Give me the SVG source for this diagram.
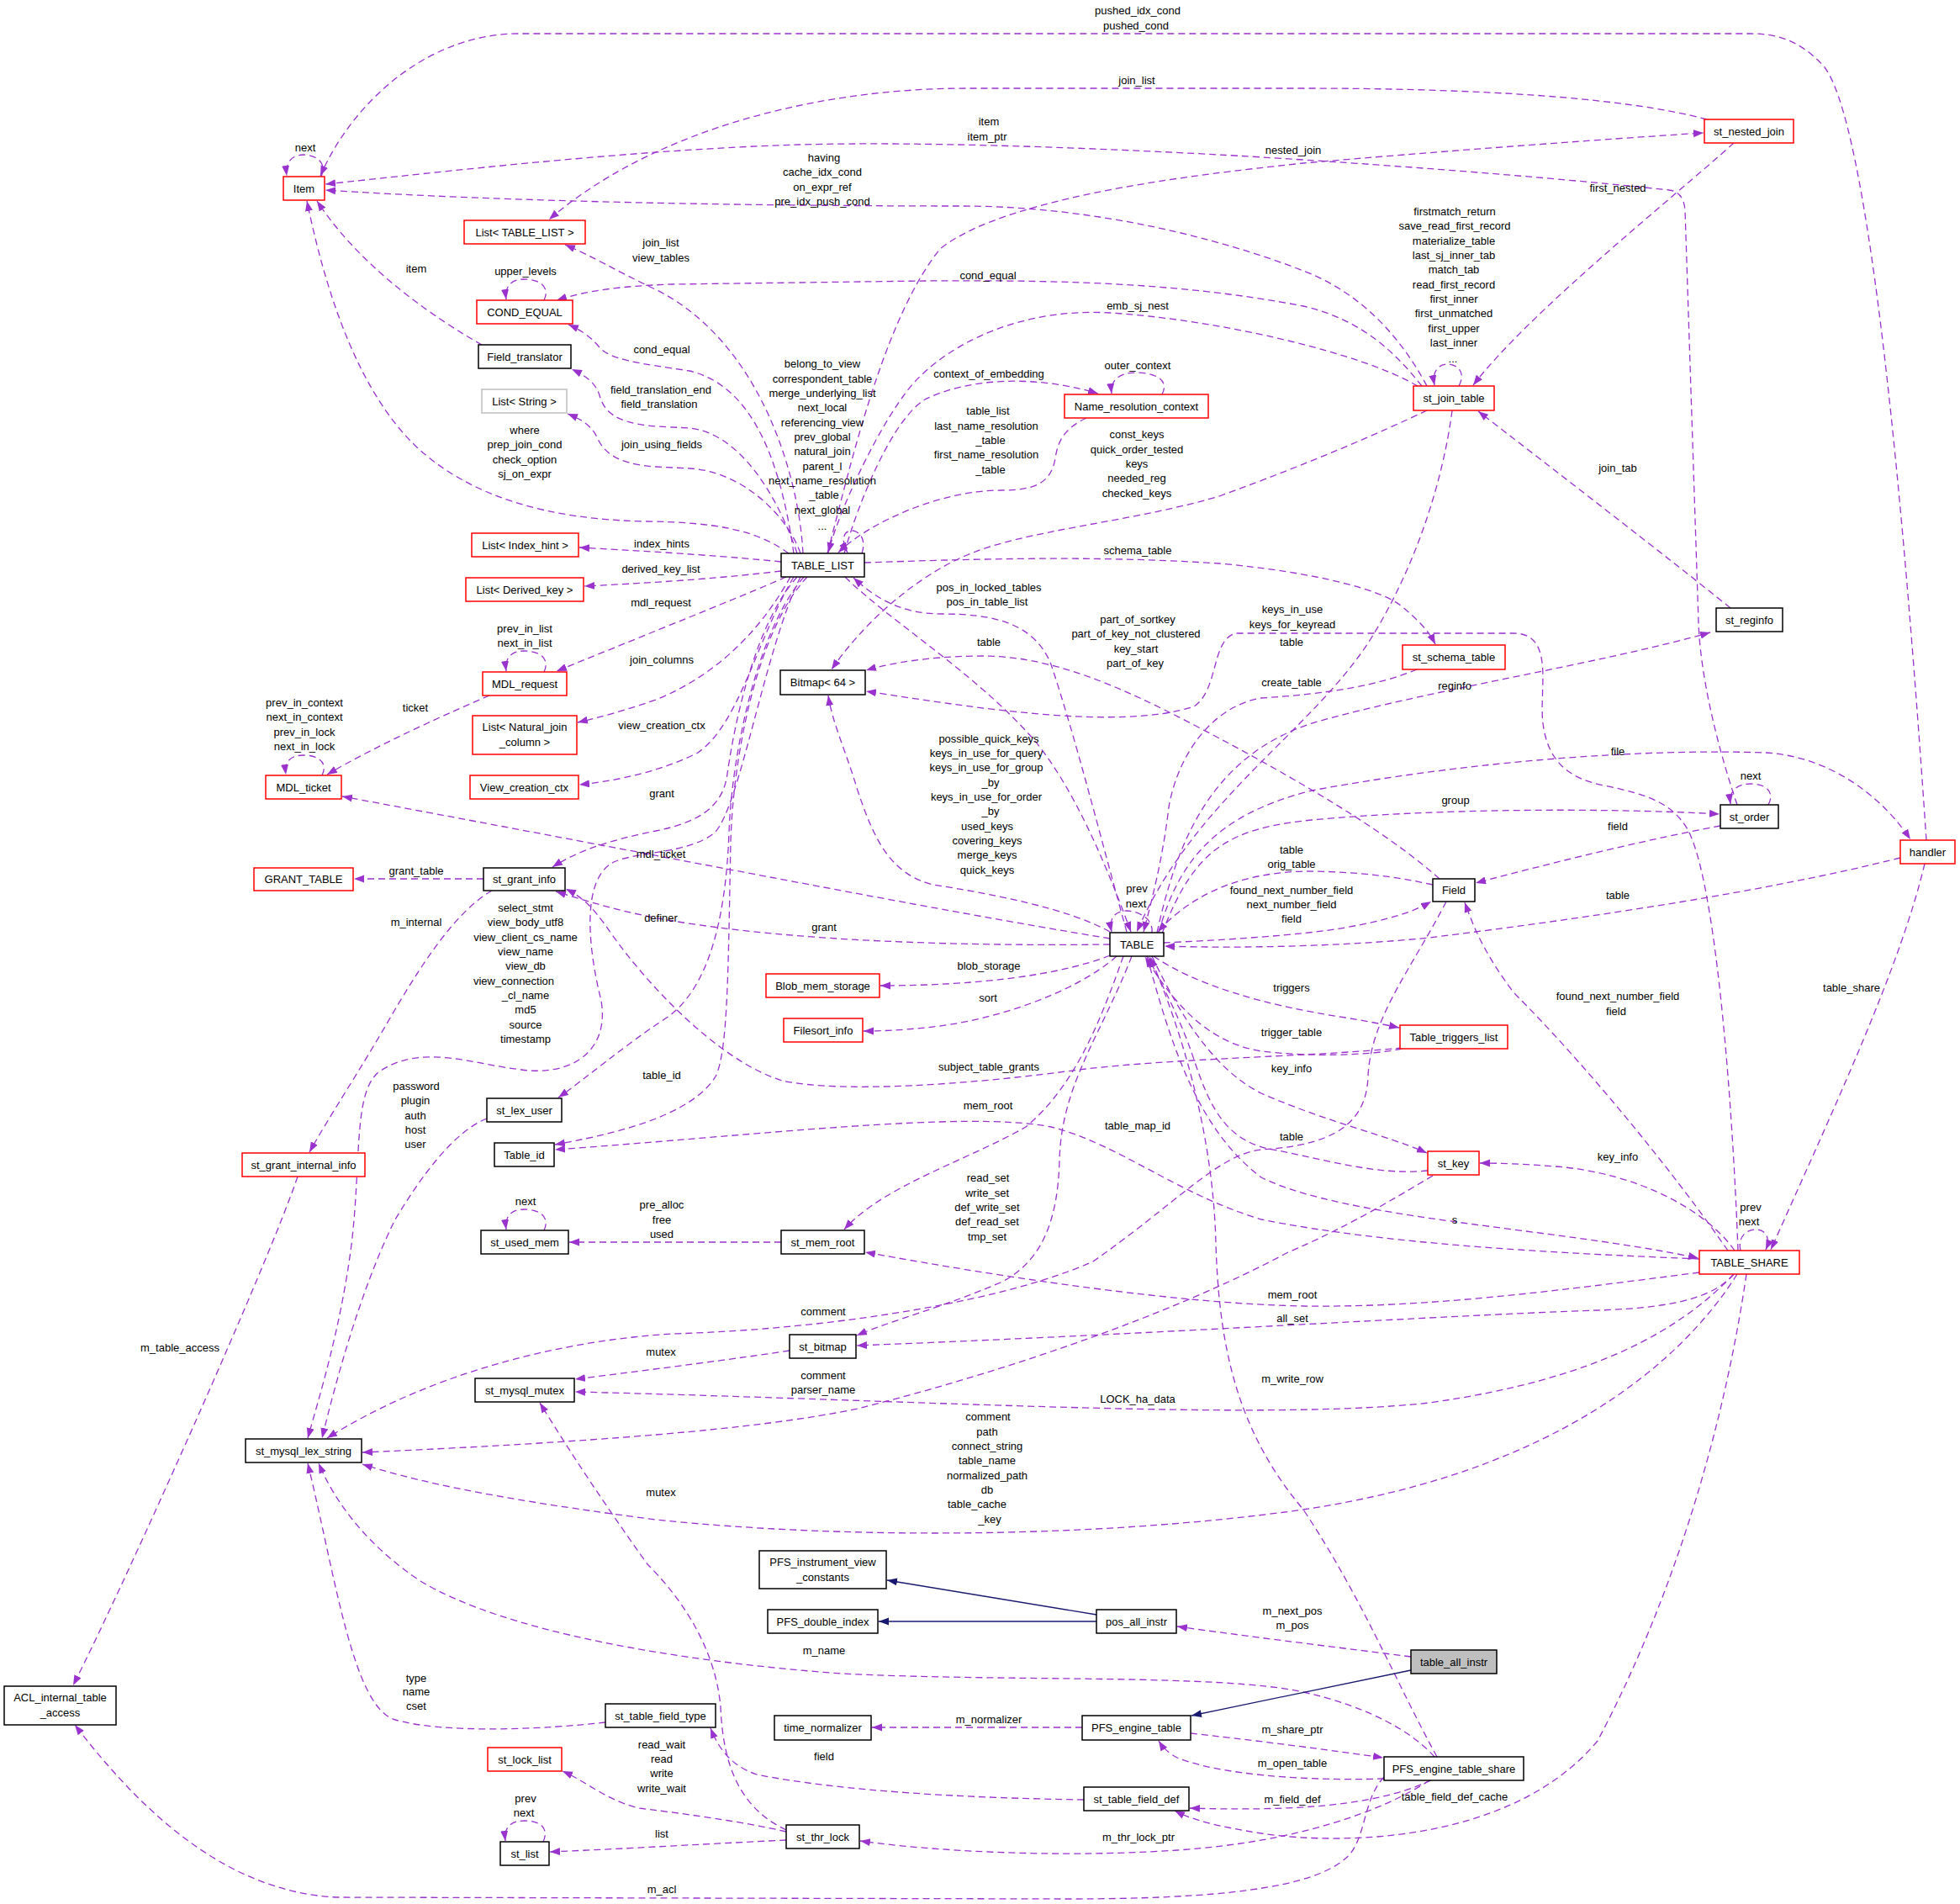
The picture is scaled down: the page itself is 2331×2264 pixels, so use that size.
<svg xmlns="http://www.w3.org/2000/svg" width="2331" height="2264" viewBox="0 0 2331 2264">
<style>
text{font-family:"Liberation Sans",Arial,sans-serif;font-size:13px;text-anchor:middle;fill:#000}
.nd rect{fill:#fff;stroke-width:1.5}
.r rect{stroke:#ff0000}
.b rect{stroke:#000}
.g rect{stroke:#bfbfbf}
.e path{fill:none;stroke:#9a32cd;stroke-width:1.3;stroke-dasharray:8,5;marker-end:url(#a)}
.e path.i{stroke:#191970;stroke-dasharray:none;marker-end:url(#ai)}
</style>
<defs>
<marker id="a" markerUnits="userSpaceOnUse" markerWidth="13" markerHeight="10" refX="12" refY="4.5" orient="auto"><path d="M0,0 L12,4.5 L0,9 z" fill="#9a32cd"/></marker>
<marker id="ai" markerUnits="userSpaceOnUse" markerWidth="13" markerHeight="10" refX="12" refY="4.5" orient="auto"><path d="M0,0 L12,4.5 L0,9 z" fill="#191970"/></marker>
</defs>
<rect width="2331" height="2264" fill="#fff"/>
<g id="edges" class="e">
<path d="M382,210 C390,192 374,184 361,184 C348,184 339,192 341,209"/>
<path d="M2291,999 C2272,720 2230,160 2170,80 C2140,46 2110,40 2082,40 L617,40 C510,40 420,120 381,209"/>
<path d="M2030,142 C1930,115 1750,105 1550,105 L1150,105 C960,105 770,160 653,261"/>
<path d="M2066,957 C2040,880 2022,800 2020,740 L2004,250 C2003,235 1996,227 1985,226 C1800,206 1560,190 1450,184 C1300,176 1100,168 950,172 C750,178 520,205 387,219"/>
<path d="M984,658 C1010,560 1050,380 1118,296 C1200,230 1450,205 1550,194 C1700,181 1900,166 2026,158"/>
<path d="M2062,170 C1990,235 1820,370 1752,458"/>
<path d="M1697,459 C1660,390 1610,345 1550,322 C1450,283 1300,245 1143,245 C900,245 600,240 387,226"/>
<path d="M573,410 C520,380 430,320 377,239"/>
<path d="M938,658 C900,630 850,621 770,620 C650,618 560,590 497,533 C430,470 390,360 365,239"/>
<path d="M955,658 C950,560 900,400 775,342 C735,323 705,305 672,291"/>
<path d="M1691,459 C1660,420 1620,380 1550,364 C1400,335 1250,333 1100,334 L800,338 C740,340 700,345 662,357"/>
<path d="M647,357 C655,340 640,332 624,332 C608,332 600,340 602,356"/>
<path d="M944,658 C930,560 900,460 820,441 C760,432 725,428 712,412 C702,400 690,392 676,386"/>
<path d="M948,658 C925,590 880,515 820,509 L780,507 C730,503 718,488 713,470 C708,455 697,447 680,439"/>
<path d="M952,658 C935,610 880,560 820,557 L780,555 C730,552 717,535 710,520 C703,505 690,498 675,492"/>
<path d="M929,668 C870,662 800,657 689,651"/>
<path d="M929,679 C870,686 800,692 695,697"/>
<path d="M935,686 C880,710 780,750 662,798"/>
<path d="M647,799 C655,782 640,774 624,774 C608,774 600,782 602,798"/>
<path d="M582,827 C540,845 450,885 389,921"/>
<path d="M383,922 C391,905 376,898 361,898 C346,898 338,905 340,921"/>
<path d="M940,686 C910,740 860,800 780,832 C740,846 712,853 687,859"/>
<path d="M944,686 C900,760 880,860 830,895 C790,915 740,928 689,933"/>
<path d="M948,686 C900,740 875,850 865,920 C860,960 830,978 780,988 C730,998 690,1010 657,1031"/>
<path d="M1320,1116 C1100,1080 800,1020 407,947"/>
<path d="M1320,1123 C1150,1125 950,1120 800,1095 C740,1085 700,1072 661,1060"/>
<path d="M956,686 C900,750 870,900 867,990 C863,1100 840,1180 790,1212 C740,1245 700,1280 664,1305"/>
<path d="M960,686 C900,750 872,900 869,1000 C866,1150 866,1250 851,1280 C820,1330 720,1350 660,1361"/>
<path d="M952,686 C910,770 880,960 850,990 C820,1015 760,1012 730,1025 C690,1045 700,1130 715,1190 C725,1250 680,1280 620,1272 C560,1265 500,1240 450,1275 C420,1300 430,1380 418,1480 C405,1580 380,1660 366,1710"/>
<path d="M575,1045 L421,1045"/>
<path d="M585,1059 C540,1085 500,1150 470,1200 C430,1270 390,1330 368,1370"/>
<path d="M354,1399 C320,1500 150,1880 87,2004"/>
<path d="M579,1330 C540,1345 500,1400 470,1450 C430,1530 400,1640 383,1710"/>
<path d="M647,1463 C655,1446 640,1438 624,1438 C608,1438 600,1446 602,1462"/>
<path d="M929,1477 L677,1477"/>
<path d="M1320,1108 C1270,1080 1180,1063 1110,1052 C1060,1040 1040,1000 1020,940 C1005,890 990,860 985,827"/>
<path d="M1697,488 C1640,515 1560,550 1450,590 C1350,620 1220,630 1150,660 C1080,690 1020,750 989,796"/>
<path d="M1712,1045 C1650,990 1550,930 1420,862 C1330,815 1250,780 1168,780 C1110,780 1060,788 1030,797"/>
<path d="M2067,1487 C2060,1300 2040,1050 2008,988 C1990,955 1960,945 1908,934 C1860,925 1840,900 1835,860 C1830,820 1850,753 1800,753 L1470,753 C1440,760 1450,820 1420,840 C1330,870 1150,840 1030,822"/>
<path d="M1025,658 C1031,640 1021,631 1013,631 C1004,631 999,641 1008,657"/>
<path d="M1382,469 C1392,450 1370,443 1352,443 C1334,443 1320,450 1322,468"/>
<path d="M1004,658 C1020,600 1060,500 1100,475 C1150,450 1230,445 1306,468"/>
<path d="M1292,497 C1265,510 1258,525 1255,545 C1250,575 1230,583 1190,583 C1120,583 1035,620 997,657"/>
<path d="M1686,459 C1620,420 1450,380 1320,372 C1200,365 1110,420 1075,470 C1045,510 1000,600 985,657"/>
<path d="M1735,459 C1745,440 1730,433 1722,433 C1710,433 1703,442 1706,458"/>
<path d="M2058,723 C1980,660 1850,560 1758,489"/>
<path d="M1727,488 C1715,580 1680,680 1630,760 C1560,870 1420,950 1352,1108"/>
<path d="M1685,796 C1640,815 1580,825 1500,830 C1440,840 1400,900 1390,960 C1383,1020 1370,1070 1360,1108"/>
<path d="M1028,669 C1150,665 1300,660 1450,670 C1560,680 1640,700 1666,720 C1690,740 1700,752 1707,766"/>
<path d="M1376,1109 C1400,1000 1440,900 1560,860 C1700,820 1900,790 2034,752"/>
<path d="M1378,1109 C1400,1030 1440,970 1560,940 C1750,905 1950,890 2100,895 C2180,900 2240,950 2272,998"/>
<path d="M1382,1110 C1420,1010 1460,985 1560,975 C1700,962 1900,960 2045,968"/>
<path d="M2103,957 C2112,940 2098,932 2082,932 C2066,932 2056,940 2058,956"/>
<path d="M2046,982 C1950,1000 1850,1025 1755,1050"/>
<path d="M1384,1121 C1450,1118 1550,1112 1600,1103 C1650,1094 1680,1085 1702,1072"/>
<path d="M1704,1052 C1650,1040 1600,1036 1550,1036 C1480,1038 1420,1060 1377,1108"/>
<path d="M2260,1020 C2100,1060 1900,1090 1700,1115 C1600,1125 1480,1128 1385,1125"/>
<path d="M1370,1109 C1372,1090 1350,1083 1340,1083 C1328,1083 1318,1090 1322,1108"/>
<path d="M1320,1136 C1260,1160 1160,1172 1047,1172"/>
<path d="M1328,1137 C1280,1180 1180,1215 1100,1222 C1070,1225 1050,1226 1027,1226"/>
<path d="M1336,1137 C1310,1210 1280,1290 1220,1340 C1150,1380 1050,1410 1004,1462"/>
<path d="M1346,1137 C1310,1230 1262,1290 1260,1380 C1258,1450 1240,1500 1190,1525 C1120,1555 1060,1570 1019,1588"/>
<path d="M1372,1137 C1420,1170 1500,1195 1600,1210 C1630,1215 1650,1219 1664,1222"/>
<path d="M1667,1247 C1630,1255 1560,1257 1500,1250 C1440,1240 1400,1200 1362,1138"/>
<path d="M1668,1246 C1550,1257 1400,1258 1283,1272 C1150,1290 1000,1300 930,1285 C850,1260 760,1160 720,1100 C705,1080 695,1068 673,1057"/>
<path d="M1370,1137 C1400,1200 1440,1270 1500,1300 C1580,1335 1650,1350 1697,1371"/>
<path d="M1698,1392 C1640,1398 1580,1380 1520,1368 C1460,1360 1440,1320 1420,1260 C1400,1200 1375,1160 1366,1138"/>
<path d="M1364,1137 C1390,1230 1420,1340 1500,1400 C1600,1450 1850,1460 2020,1496"/>
<path d="M2021,1513 C1850,1535 1700,1555 1550,1553 C1400,1550 1200,1520 1029,1489"/>
<path d="M2062,1515 C2040,1540 2000,1555 1900,1558 C1700,1565 1400,1585 1019,1600"/>
<path d="M2062,1515 C2000,1580 1900,1640 1700,1668 C1500,1690 1100,1665 684,1655"/>
<path d="M2066,1515 C2000,1620 1850,1750 1550,1795 C1300,1830 1000,1830 780,1807 C650,1790 520,1770 431,1741"/>
<path d="M1709,2089 C1660,2000 1620,1900 1550,1795 C1470,1700 1450,1600 1446,1480 C1444,1380 1420,1260 1368,1138"/>
<path d="M2055,1487 C1980,1380 1880,1260 1800,1180 C1770,1140 1755,1110 1742,1073"/>
<path d="M2063,1487 C2030,1440 1950,1395 1850,1387 C1810,1384 1785,1383 1760,1383"/>
<path d="M2070,1487 C2066,1470 2078,1462 2088,1462 C2100,1462 2106,1472 2100,1486"/>
<path d="M2289,1027 C2260,1150 2180,1320 2106,1486"/>
<path d="M2021,1497 C1850,1490 1650,1480 1500,1450 C1400,1420 1330,1360 1250,1340 C1150,1320 900,1350 660,1367"/>
<path d="M2077,1515 C2050,1700 1990,1900 1900,2070 C1800,2190 1600,2195 1500,2180 C1450,2172 1420,2165 1397,2153"/>
<path d="M1702,2117 C1650,2140 1580,2155 1415,2150"/>
<path d="M1700,2117 C1650,2150 1550,2190 1400,2200 C1250,2210 1100,2200 1023,2189"/>
<path d="M1646,2113 C1620,2140 1625,2190 1600,2210 C1560,2245 1450,2258 1270,2258 L400,2256 C280,2250 180,2170 89,2051"/>
<path d="M1646,2115 C1550,2118 1450,2110 1400,2090 C1390,2085 1383,2078 1378,2070"/>
<path d="M1416,2061 C1480,2068 1560,2078 1645,2090"/>
<path d="M1706,2089 C1680,2060 1630,2030 1550,2012 C1450,1990 1200,2000 1000,1990 C800,1975 600,1940 500,1880 C440,1840 400,1790 379,1740"/>
<path d="M1287,2054 L1037,2054"/>
<path d="M1678,1970 C1600,1960 1500,1948 1400,1934"/>
<path class="i" d="M1678,1986 L1417,2040"/>
<path class="i" d="M1304,1920 L1055,1879"/>
<path class="i" d="M1304,1928 L1045,1928"/>
<path d="M939,1606 C880,1615 780,1628 684,1640"/>
<path d="M935,2176 C880,2150 860,2100 857,2030 C850,1950 800,1890 770,1860 C720,1790 680,1730 642,1668"/>
<path d="M1289,2140 C1150,2138 1000,2130 900,2110 C870,2100 855,2080 845,2055"/>
<path d="M720,2048 C650,2056 530,2062 470,2045 C420,2030 400,1880 366,1740"/>
<path d="M935,2178 C880,2165 800,2155 760,2150 C720,2140 700,2120 669,2106"/>
<path d="M935,2188 C850,2192 750,2198 654,2202"/>
<path d="M646,2190 C654,2172 640,2165 624,2165 C608,2165 599,2172 601,2189"/>
<path d="M1720,1072 C1680,1150 1630,1210 1627,1280 C1625,1340 1580,1362 1500,1367 C1450,1372 1400,1430 1300,1500 C1200,1545 1000,1580 800,1586 C650,1595 500,1640 389,1710"/>
<path d="M1704,1398 C1650,1430 1600,1460 1530,1490 C1400,1560 1200,1630 1020,1675 C900,1700 700,1715 431,1727"/>
<path d="M1340,1108 C1310,1000 1280,880 1250,790 C1230,740 1180,730 1120,730 C1070,730 1040,710 1015,687"/>
<path d="M1005,686 C1060,740 1160,800 1230,880 C1280,940 1320,1040 1345,1108"/>
</g>
<g id="edge-labels">
<text x="1353" y="17">pushed_idx_cond</text><text x="1351" y="35">pushed_cond</text>
<text x="1352" y="100">join_list</text>
<text x="1176" y="149">item</text><text x="1174" y="167">item_ptr</text>
<text x="1538" y="183">nested_join</text>
<text x="1924" y="228">first_nested</text>
<text x="980" y="192">having</text><text x="978" y="209">cache_idx_cond</text><text x="978" y="227">on_expr_ref</text><text x="978" y="244">pre_idx_push_cond</text>
<text x="363" y="180">next</text>
<text x="1730" y="256">firstmatch_return</text><text x="1730" y="273">save_read_first_record</text><text x="1729" y="291">materialize_table</text><text x="1729" y="308">last_sj_inner_tab</text><text x="1729" y="325">match_tab</text><text x="1729" y="343">read_first_record</text><text x="1729" y="360">first_inner</text><text x="1729" y="377">first_unmatched</text><text x="1729" y="395">first_upper</text><text x="1729" y="412">last_inner</text><text x="1728" y="431">...</text>
<text x="786" y="293">join_list</text><text x="786" y="311">view_tables</text>
<text x="495" y="324">item</text>
<text x="625" y="327">upper_levels</text>
<text x="1175" y="332">cond_equal</text>
<text x="1353" y="368">emb_sj_nest</text>
<text x="787" y="420">cond_equal</text>
<text x="978" y="437">belong_to_view</text><text x="978" y="455">correspondent_table</text><text x="978" y="472">merge_underlying_list</text><text x="978" y="489">next_local</text><text x="978" y="507">referencing_view</text><text x="978" y="524">prev_global</text><text x="978" y="541">natural_join</text><text x="978" y="559">parent_l</text><text x="978" y="576">next_name_resolution</text><text x="980" y="593">_table</text><text x="978" y="611">next_global</text><text x="978" y="630">...</text>
<text x="786" y="468">field_translation_end</text><text x="784" y="485">field_translation</text>
<text x="787" y="533">join_using_fields</text>
<text x="1176" y="449">context_of_embedding</text>
<text x="1353" y="439">outer_context</text>
<text x="1175" y="493">table_list</text><text x="1173" y="511">last_name_resolution</text><text x="1178" y="528">_table</text><text x="1173" y="545">first_name_resolution</text><text x="1178" y="563">_table</text>
<text x="1352" y="521">const_keys</text><text x="1352" y="539">quick_order_tested</text><text x="1352" y="556">keys</text><text x="1352" y="573">needed_reg</text><text x="1352" y="591">checked_keys</text>
<text x="624" y="516">where</text><text x="624" y="533">prep_join_cond</text><text x="624" y="551">check_option</text><text x="624" y="568">sj_on_expr</text>
<text x="1924" y="561">join_tab</text>
<text x="787" y="651">index_hints</text>
<text x="1353" y="659">schema_table</text>
<text x="786" y="681">derived_key_list</text>
<text x="1176" y="703">pos_in_locked_tables</text><text x="1174" y="720">pos_in_table_list</text>
<text x="786" y="721">mdl_request</text>
<text x="1537" y="729">keys_in_use</text><text x="1537" y="747">keys_for_keyread</text>
<text x="1353" y="741">part_of_sortkey</text><text x="1351" y="758">part_of_key_not_clustered</text><text x="1351" y="776">key_start</text><text x="1350" y="793">part_of_key</text>
<text x="624" y="752">prev_in_list</text><text x="624" y="769">next_in_list</text>
<text x="1176" y="768">table</text><text x="1536" y="768">table</text>
<text x="787" y="789">join_columns</text>
<text x="1536" y="816">create_table</text>
<text x="1730" y="820">reginfo</text>
<text x="362" y="840">prev_in_context</text><text x="362" y="857">next_in_context</text><text x="362" y="875">prev_in_lock</text><text x="362" y="892">next_in_lock</text>
<text x="494" y="846">ticket</text>
<text x="787" y="867">view_creation_ctx</text>
<text x="1176" y="883">possible_quick_keys</text><text x="1173" y="900">keys_in_use_for_query</text><text x="1173" y="917">keys_in_use_for_group</text><text x="1178" y="935">_by</text><text x="1173" y="952">keys_in_use_for_order</text><text x="1178" y="969">_by</text><text x="1174" y="987">used_keys</text><text x="1174" y="1004">covering_keys</text><text x="1174" y="1021">merge_keys</text><text x="1174" y="1039">quick_keys</text>
<text x="1924" y="898">file</text>
<text x="2082" y="927">next</text>
<text x="787" y="948">grant</text>
<text x="1731" y="956">group</text>
<text x="1924" y="987">field</text>
<text x="1536" y="1015">table</text><text x="1536" y="1032">orig_table</text>
<text x="786" y="1020">mdl_ticket</text>
<text x="495" y="1040">grant_table</text>
<text x="1352" y="1061">prev</text><text x="1351" y="1079">next</text>
<text x="1536" y="1063">found_next_number_field</text><text x="1536" y="1080">next_number_field</text><text x="1536" y="1097">field</text>
<text x="1924" y="1069">table</text>
<text x="625" y="1084">select_stmt</text><text x="625" y="1101">view_body_utf8</text><text x="625" y="1119">view_client_cs_name</text><text x="625" y="1136">view_name</text><text x="625" y="1153">view_db</text><text x="611" y="1171">view_connection</text><text x="625" y="1188">_cl_name</text><text x="625" y="1205">md5</text><text x="625" y="1223">source</text><text x="625" y="1240">timestamp</text>
<text x="786" y="1096">definer</text>
<text x="495" y="1101">m_internal</text>
<text x="980" y="1107">grant</text>
<text x="1176" y="1153">blob_storage</text>
<text x="1536" y="1179">triggers</text>
<text x="2202" y="1179">table_share</text>
<text x="1924" y="1189">found_next_number_field</text><text x="1922" y="1207">field</text>
<text x="1175" y="1191">sort</text>
<text x="1536" y="1232">trigger_table</text>
<text x="1176" y="1273">subject_table_grants</text>
<text x="1536" y="1275">key_info</text>
<text x="787" y="1283">table_id</text>
<text x="495" y="1296">password</text><text x="494" y="1313">plugin</text><text x="494" y="1331">auth</text><text x="494" y="1348">host</text><text x="494" y="1365">user</text>
<text x="1175" y="1319">mem_root</text>
<text x="1353" y="1343">table_map_id</text>
<text x="1536" y="1356">table</text>
<text x="1924" y="1380">key_info</text>
<text x="1175" y="1405">read_set</text><text x="1174" y="1423">write_set</text><text x="1174" y="1440">def_write_set</text><text x="1174" y="1457">def_read_set</text><text x="1174" y="1475">tmp_set</text>
<text x="625" y="1433">next</text>
<text x="787" y="1437">pre_alloc</text><text x="787" y="1455">free</text><text x="787" y="1472">used</text>
<text x="2082" y="1440">prev</text><text x="2080" y="1457">next</text>
<text x="1730" y="1455">s</text>
<text x="1537" y="1544">mem_root</text>
<text x="979" y="1564">comment</text>
<text x="1537" y="1572">all_set</text>
<text x="214" y="1607">m_table_access</text>
<text x="786" y="1612">mutex</text>
<text x="979" y="1640">comment</text><text x="979" y="1657">parser_name</text>
<text x="1537" y="1644">m_write_row</text>
<text x="1353" y="1668">LOCK_ha_data</text>
<text x="1175" y="1689">comment</text><text x="1174" y="1707">path</text><text x="1174" y="1724">connect_string</text><text x="1174" y="1741">table_name</text><text x="1174" y="1759">normalized_path</text><text x="1174" y="1776">db</text><text x="1162" y="1793">table_cache</text><text x="1177" y="1811">_key</text>
<text x="786" y="1779">mutex</text>
<text x="1537" y="1920">m_next_pos</text><text x="1537" y="1937">m_pos</text>
<text x="980" y="1967">m_name</text>
<text x="495" y="2000">type</text><text x="495" y="2016">name</text><text x="495" y="2033">cset</text>
<text x="1176" y="2049">m_normalizer</text>
<text x="1537" y="2061">m_share_ptr</text>
<text x="787" y="2079">read_wait</text><text x="787" y="2096">read</text><text x="787" y="2113">write</text><text x="787" y="2131">write_wait</text>
<text x="980" y="2093">field</text>
<text x="1537" y="2101">m_open_table</text>
<text x="1730" y="2141">table_field_def_cache</text>
<text x="625" y="2143">prev</text><text x="623" y="2160">next</text>
<text x="1537" y="2144">m_field_def</text>
<text x="787" y="2185">list</text>
<text x="1354" y="2189">m_thr_lock_ptr</text>
<text x="787" y="2251">m_acl</text>
</g>
<g id="nodes">
<g id="n_Item" class="nd r"><rect x="337" y="210" width="49" height="28"/><text x="361.5" y="228.5">Item</text></g>
<g id="n_List_TABLE_LIST" class="nd r"><rect x="552" y="262" width="144" height="28"/><text x="624" y="280.5">List&lt; TABLE_LIST &gt;</text></g>
<g id="n_COND_EQUAL" class="nd r"><rect x="567" y="357" width="114" height="28"/><text x="624" y="375.5">COND_EQUAL</text></g>
<g id="n_Field_translator" class="nd b"><rect x="569" y="410" width="110" height="28"/><text x="624" y="428.5">Field_translator</text></g>
<g id="n_List_String" class="nd g"><rect x="573" y="463" width="101" height="28"/><text x="623.5" y="481.5">List&lt; String &gt;</text></g>
<g id="n_List_Index_hint" class="nd r"><rect x="561" y="634" width="127" height="28"/><text x="624.5" y="652.5">List&lt; Index_hint &gt;</text></g>
<g id="n_List_Derived_key" class="nd r"><rect x="554" y="687" width="140" height="28"/><text x="624" y="705.5">List&lt; Derived_key &gt;</text></g>
<g id="n_MDL_request" class="nd r"><rect x="574" y="799" width="100" height="28"/><text x="624" y="817.5">MDL_request</text></g>
<g id="n_List_Natural_join_column" class="nd r"><rect x="562" y="851" width="124" height="46"/><text x="624" y="869">List&lt; Natural_join</text><text x="624" y="887">_column &gt;</text></g>
<g id="n_View_creation_ctx" class="nd r"><rect x="559" y="922" width="129" height="28"/><text x="623.5" y="940.5">View_creation_ctx</text></g>
<g id="n_MDL_ticket" class="nd r"><rect x="316" y="922" width="90" height="28"/><text x="361" y="940.5">MDL_ticket</text></g>
<g id="n_GRANT_TABLE" class="nd r"><rect x="302" y="1032" width="118" height="27"/><text x="361" y="1050">GRANT_TABLE</text></g>
<g id="n_st_grant_info" class="nd b"><rect x="575" y="1032" width="97" height="27"/><text x="623.5" y="1050">st_grant_info</text></g>
<g id="n_st_lex_user" class="nd b"><rect x="579" y="1306" width="89" height="28"/><text x="623.5" y="1324.5">st_lex_user</text></g>
<g id="n_Table_id" class="nd b"><rect x="588" y="1359" width="71" height="28"/><text x="623.5" y="1377.5">Table_id</text></g>
<g id="n_st_grant_internal_info" class="nd r"><rect x="288" y="1371" width="146" height="28"/><text x="361" y="1389.5">st_grant_internal_info</text></g>
<g id="n_st_used_mem" class="nd b"><rect x="572" y="1463" width="104" height="28"/><text x="624" y="1481.5">st_used_mem</text></g>
<g id="n_st_mysql_mutex" class="nd b"><rect x="565" y="1639" width="118" height="28"/><text x="624" y="1657.5">st_mysql_mutex</text></g>
<g id="n_st_mysql_lex_string" class="nd b"><rect x="292" y="1711" width="138" height="28"/><text x="361" y="1729.5">st_mysql_lex_string</text></g>
<g id="n_ACL_internal_table_access" class="nd b"><rect x="5" y="2005" width="133" height="46"/><text x="71.5" y="2023">ACL_internal_table</text><text x="71.5" y="2041">_access</text></g>
<g id="n_st_table_field_type" class="nd b"><rect x="720" y="2026" width="131" height="28"/><text x="785.5" y="2044.5">st_table_field_type</text></g>
<g id="n_st_lock_list" class="nd r"><rect x="580" y="2078" width="88" height="28"/><text x="624" y="2096.5">st_lock_list</text></g>
<g id="n_st_list" class="nd b"><rect x="595" y="2190" width="58" height="28"/><text x="624" y="2208.5">st_list</text></g>
<g id="n_TABLE_LIST" class="nd b"><rect x="929" y="658" width="99" height="28"/><text x="978.5" y="676.5">TABLE_LIST</text></g>
<g id="n_Bitmap64" class="nd b"><rect x="928" y="797" width="101" height="29"/><text x="978.5" y="816">Bitmap&lt; 64 &gt;</text></g>
<g id="n_Blob_mem_storage" class="nd r"><rect x="911" y="1158" width="135" height="28"/><text x="978.5" y="1176.5">Blob_mem_storage</text></g>
<g id="n_Filesort_info" class="nd r"><rect x="932" y="1211" width="94" height="28"/><text x="979" y="1229.5">Filesort_info</text></g>
<g id="n_st_mem_root" class="nd b"><rect x="929" y="1463" width="99" height="28"/><text x="978.5" y="1481.5">st_mem_root</text></g>
<g id="n_st_bitmap" class="nd b"><rect x="939" y="1587" width="79" height="28"/><text x="978.5" y="1605.5">st_bitmap</text></g>
<g id="n_PFS_instrument_view_constants" class="nd b"><rect x="903" y="1844" width="151" height="45"/><text x="978.5" y="1861.5">PFS_instrument_view</text><text x="978.5" y="1879.5">_constants</text></g>
<g id="n_PFS_double_index" class="nd b"><rect x="913" y="1914" width="131" height="28"/><text x="978.5" y="1932.5">PFS_double_index</text></g>
<g id="n_time_normalizer" class="nd b"><rect x="921" y="2040" width="115" height="29"/><text x="978.5" y="2059">time_normalizer</text></g>
<g id="n_st_thr_lock" class="nd b"><rect x="935" y="2170" width="87" height="28"/><text x="978.5" y="2188.5">st_thr_lock</text></g>
<g id="n_Name_resolution_context" class="nd r"><rect x="1266" y="469" width="171" height="28"/><text x="1351.5" y="487.5">Name_resolution_context</text></g>
<g id="n_TABLE" class="nd b"><rect x="1320" y="1109" width="64" height="28"/><text x="1352" y="1127.5">TABLE</text></g>
<g id="n_pos_all_instr" class="nd b"><rect x="1304" y="1914" width="95" height="28"/><text x="1351.5" y="1932.5">pos_all_instr</text></g>
<g id="n_PFS_engine_table" class="nd b"><rect x="1287" y="2040" width="129" height="29"/><text x="1351.5" y="2059">PFS_engine_table</text></g>
<g id="n_st_table_field_def" class="nd b"><rect x="1289" y="2125" width="125" height="28"/><text x="1351.5" y="2143.5">st_table_field_def</text></g>
<g id="n_st_nested_join" class="nd r"><rect x="2027" y="142" width="106" height="28"/><text x="2080" y="160.5">st_nested_join</text></g>
<g id="n_st_join_table" class="nd r"><rect x="1681" y="459" width="96" height="29"/><text x="1729" y="478">st_join_table</text></g>
<g id="n_st_reginfo" class="nd b"><rect x="2041" y="723" width="79" height="28"/><text x="2080.5" y="741.5">st_reginfo</text></g>
<g id="n_st_schema_table" class="nd r"><rect x="1668" y="767" width="122" height="29"/><text x="1729" y="786">st_schema_table</text></g>
<g id="n_st_order" class="nd b"><rect x="2046" y="957" width="69" height="28"/><text x="2080.5" y="975.5">st_order</text></g>
<g id="n_handler" class="nd r"><rect x="2260" y="999" width="65" height="28"/><text x="2292.5" y="1017.5">handler</text></g>
<g id="n_Field" class="nd b"><rect x="1704" y="1045" width="50" height="27"/><text x="1729" y="1063">Field</text></g>
<g id="n_Table_triggers_list" class="nd r"><rect x="1665" y="1219" width="128" height="28"/><text x="1729" y="1237.5">Table_triggers_list</text></g>
<g id="n_st_key" class="nd r"><rect x="1698" y="1369" width="61" height="28"/><text x="1728.5" y="1387.5">st_key</text></g>
<g id="n_TABLE_SHARE" class="nd r"><rect x="2021" y="1487" width="119" height="28"/><text x="2080.5" y="1505.5">TABLE_SHARE</text></g>
<g id="n_table_all_instr" class="nd b"><rect x="1678" y="1962" width="102" height="28" style="fill:#bfbfbf"/><text x="1729" y="1980.5">table_all_instr</text></g>
<g id="n_PFS_engine_table_share" class="nd b"><rect x="1646" y="2089" width="166" height="28"/><text x="1729" y="2107.5">PFS_engine_table_share</text></g>
</g>
</svg>
